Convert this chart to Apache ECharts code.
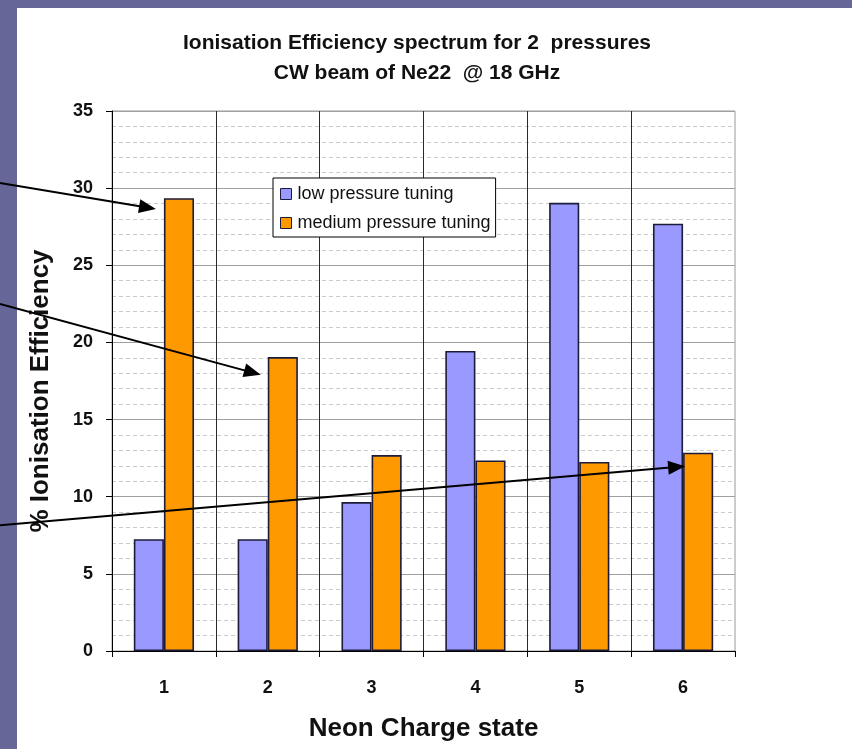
<!DOCTYPE html>
<html>
<head>
<meta charset="utf-8">
<script src="https://cdn.jsdelivr.net/npm/echarts@6/dist/echarts.min.js"></script>
<style>
  html, body { margin: 0; padding: 0; background: #666699; width: 852px; height: 749px; overflow: hidden; }
  #panel { position: absolute; left: 17px; top: 8px; right: 0; bottom: 0; background: #ffffff; }
  #chart { position: absolute; left: 0; top: 0; width: 852px; height: 749px; }
</style>
</head>
<body>
<div id="panel"></div>
<div id="chart"></div>
<script>
// ---- data ----
const categories = ['1', '2', '3', '4', '5', '6'];
const lowPressure = [7.25, 7.25, 9.65, 19.45, 29.05, 27.7];
const mediumPressure = [29.35, 19.05, 12.7, 12.35, 12.25, 12.85];
const seriesNames = ['low pressure tuning', 'medium pressure tuning'];
const titleLines = ['Ionisation Efficiency spectrum for 2  pressures', 'CW beam of Ne22  @ 18 GHz'];
// arrow annotations: target category / value, and value where arrow enters at page left edge
const arrowTargetCats = [0, 1, 5];
const arrowTargetValues = [28.65, 17.9, 11.97];
const arrowStartValues = [30.34, 22.5, 8.15];
const arrowTipShift = [-8, -7, 2];

const chart = echarts.init(document.getElementById('chart'), null, { renderer: 'canvas' });
const font = 'Liberation Sans, Arial, sans-serif';

const option = {
  animation: false,
  backgroundColor: 'transparent',
  textStyle: { fontFamily: font },
  title: {
    text: titleLines.join('\n'),
    left: 417,
    top: 28,
    textAlign: 'center',
    padding: 0,
    textStyle: { fontSize: 21, fontWeight: 'bold', color: '#111', lineHeight: 30, fontFamily: font }
  },
  legend: {
    orient: 'vertical',
    left: 273,
    top: 178,
    padding: [7, 5, 5, 7],
    itemGap: 11,
    itemWidth: 11,
    itemHeight: 11,
    icon: 'rect',
    backgroundColor: '#fff',
    borderColor: '#000',
    borderWidth: 1,
    borderRadius: 0,
    textStyle: { fontSize: 18, color: '#111', lineHeight: 18, fontFamily: font, padding: [0, 0, 0, 1] },
    itemStyle: { borderWidth: 1, borderColor: '#1c1c3a' },
    data: seriesNames
  },
  grid: {
    left: 112, right: 117, top: 111, bottom: 98,
    show: true, borderColor: '#999', borderWidth: 1, backgroundColor: 'transparent'
  },
  xAxis: {
    type: 'category',
    data: categories,
    boundaryGap: true,
    name: 'Neon Charge state',
    nameLocation: 'middle',
    nameGap: 65,
    nameTextStyle: { fontSize: 26, fontWeight: 'bold', color: '#111', fontFamily: font, verticalAlign: 'top' },
    axisLine: { show: true, lineStyle: { color: '#000', width: 1 } },
    axisTick: { show: true, length: 6, lineStyle: { color: '#000' } },
    axisLabel: { margin: 28, fontSize: 18, fontWeight: 'bold', color: '#111', fontFamily: font },
    splitLine: { show: true, showMaxLine: false, lineStyle: { color: '#2a2a2a', width: 1 } }
  },
  yAxis: {
    type: 'value',
    min: 0, max: 35, interval: 5,
    name: '% Ionisation Efficiency',
    nameLocation: 'middle',
    nameGap: 58,
    nameTextStyle: { fontSize: 26, fontWeight: 'bold', color: '#111', fontFamily: font, padding: [0, 20, 0, 0] },
    axisLine: { show: true, lineStyle: { color: '#000', width: 1 } },
    axisTick: { show: true, length: 6, lineStyle: { color: '#000' } },
    axisLabel: { margin: 19, fontSize: 18, fontWeight: 'bold', color: '#111', fontFamily: font },
    splitLine: { show: true, lineStyle: { color: '#a0a0a0', width: 1 } },
    minorTick: { show: false, splitNumber: 5 },
    minorSplitLine: { show: true, lineStyle: { color: '#cacaca', width: 1, type: [4, 3] } }
  },
  series: [
    {
      name: seriesNames[0],
      type: 'bar',
      data: lowPressure,
      barWidth: '29%',
      barGap: '0%',
      itemStyle: { color: '#9999ff', borderColor: '#1c1c3a', borderWidth: 1.6 },
      z: 3
    },
    {
      name: seriesNames[1],
      type: 'bar',
      data: mediumPressure,
      barWidth: '29%',
      barGap: '0%',
      itemStyle: { color: '#ff9900', borderColor: '#1c1c3a', borderWidth: 1.6 },
      z: 3
    }
  ]
};
chart.setOption(option);

// build arrows from data coordinates
const graphics = [];
for (let i = 0; i < arrowTargetCats.length; i++) {
  const tip = chart.convertToPixel({ gridIndex: 0 }, [arrowTargetCats[i], arrowTargetValues[i]]);
  const startY = chart.convertToPixel({ gridIndex: 0 }, [0, arrowStartValues[i]])[1];
  const tx = tip[0] + arrowTipShift[i], ty = tip[1];
  const sx = 0, sy = startY;
  const dx = tx - sx, dy = ty - sy;
  const len = Math.sqrt(dx * dx + dy * dy);
  const ux = dx / len, uy = dy / len;
  const headLen = 17, halfW = 7;
  const bx = tx - ux * headLen, by = ty - uy * headLen;
  graphics.push({
    type: 'line', z: 100,
    shape: { x1: sx, y1: sy, x2: bx + ux * 2, y2: by + uy * 2 },
    style: { stroke: '#000', lineWidth: 2 }
  });
  graphics.push({
    type: 'polygon', z: 100,
    shape: { points: [[tx, ty], [bx - uy * halfW, by + ux * halfW], [bx + uy * halfW, by - ux * halfW]] },
    style: { fill: '#000' }
  });
}
chart.setOption({ graphic: graphics });
</script>
</body>
</html>
